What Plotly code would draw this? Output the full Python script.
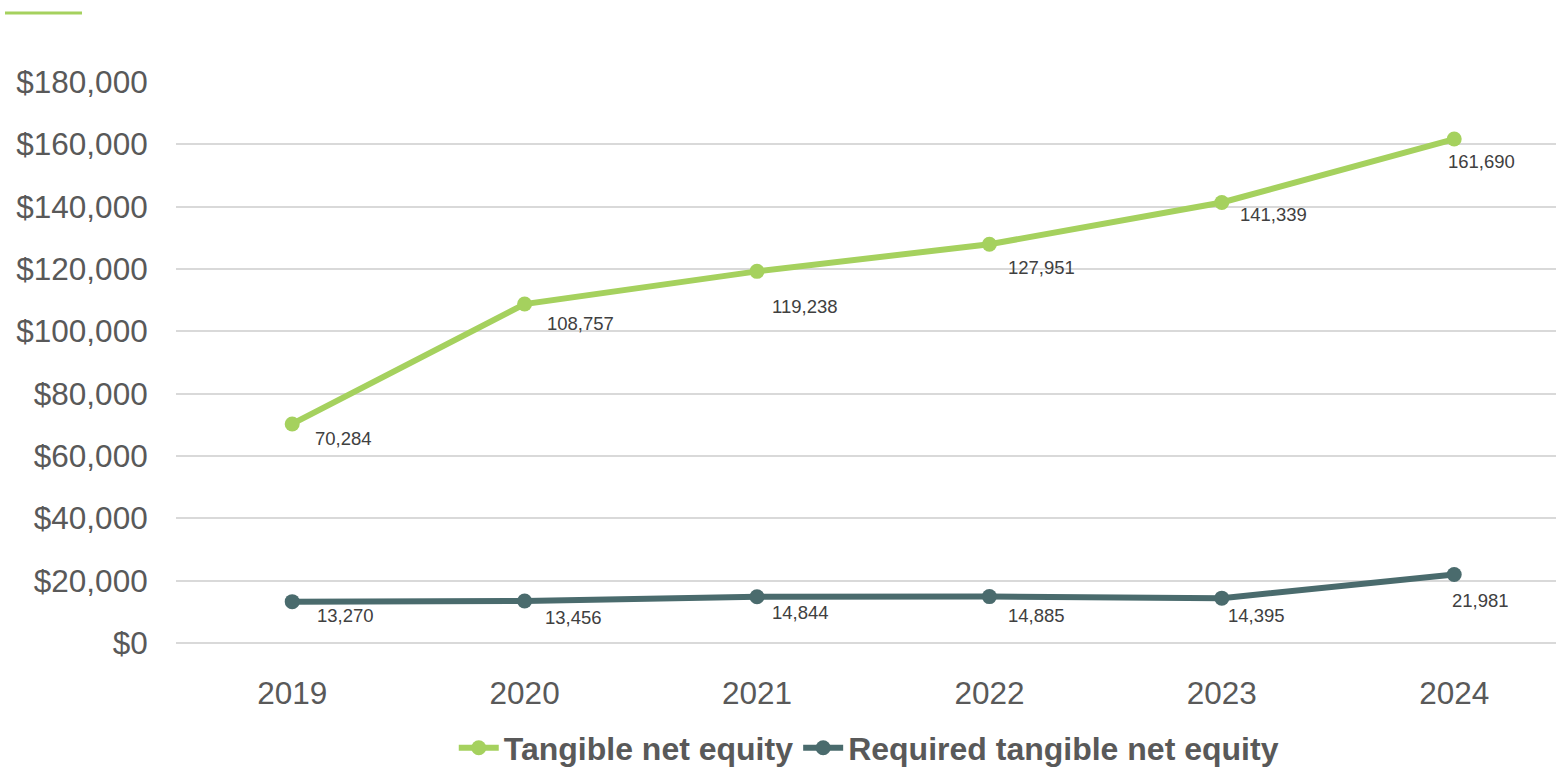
import plotly.graph_objects as go

years = ["2019", "2020", "2021", "2022", "2023", "2024"]
tangible = [70284, 108757, 119238, 127951, 141339, 161690]
required = [13270, 13456, 14844, 14885, 14395, 21981]
y_ticks = [0, 20000, 40000, 60000, 80000, 100000, 120000, 140000, 160000, 180000]
y_tick_text = ["$" + f"{v:,}" for v in y_ticks]

# label placement offsets in pixels (dx right, dy down) relative to the point
tangible_dx = [51, 56, 48, 52, 52, 27]
tangible_dy = [15, 19, 35, 23, 12, 22]
required_dx = [53, 49, 43, 47, 35, 26]
required_dy = [14, 16, 16, 19, 17, 26]

GREEN = "#A5D15E"
TEAL = "#4A6B6D"
FONT = "Liberation Sans, Arial, sans-serif"

fig = go.Figure()
fig.add_trace(go.Scatter(
    x=years, y=tangible, mode="lines+markers", name="Tangible net equity",
    line=dict(color=GREEN, width=6), marker=dict(color=GREEN, size=15),
))
fig.add_trace(go.Scatter(
    x=years, y=required, mode="lines+markers", name="Required tangible net equity",
    line=dict(color=TEAL, width=6), marker=dict(color=TEAL, size=15),
))

annotations = []
for vals, dxs, dys in [(tangible, tangible_dx, tangible_dy), (required, required_dx, required_dy)]:
    for i, (v, dx, dy) in enumerate(zip(vals, dxs, dys)):
        annotations.append(dict(
            x=i, y=v, xref="x", yref="y", text=f"{v:,}", showarrow=False,
            xanchor="center", yanchor="middle", xshift=dx, yshift=-dy,
            font=dict(family=FONT, size=18.5, color="#404040"),
        ))

fig.update_layout(
    width=1556, height=767,
    margin=dict(l=176, r=0, t=82, b=124, autoexpand=False),
    paper_bgcolor="white", plot_bgcolor="white",
    showlegend=True,
    legend=dict(
        orientation="h", x=0.502, xanchor="center", y=-0.187, yanchor="middle",
        font=dict(family=FONT, size=32, color="#595959", weight="bold"),
        itemwidth=40, tracegroupgap=0,
    ),
    annotations=annotations,
    shapes=[dict(type="line", xref="paper", yref="paper",
                 x0=(5 - 176) / 1380, x1=(82 - 176) / 1380,
                 y0=(643 - 13) / 561, y1=(643 - 13) / 561,
                 line=dict(color=GREEN, width=3))],
)
fig.update_xaxes(
    type="category", range=[-0.5, 5.438],
    showgrid=False, zeroline=False, showline=False,
    ticks="outside", ticklen=22, tickcolor="rgba(0,0,0,0)",
    tickfont=dict(family=FONT, size=31.5, color="#595959"),
)
fig.update_yaxes(
    range=[0, 180000], tickvals=y_ticks, ticktext=y_tick_text,
    showgrid=True, gridcolor="#D9D9D9", gridwidth=2,
    zeroline=True, zerolinecolor="#D9D9D9", zerolinewidth=2, showline=False,
    ticks="outside", ticklen=21, tickcolor="rgba(0,0,0,0)",
    tickfont=dict(family=FONT, size=31.5, color="#595959"),
)

fig.write_html("out.html")
